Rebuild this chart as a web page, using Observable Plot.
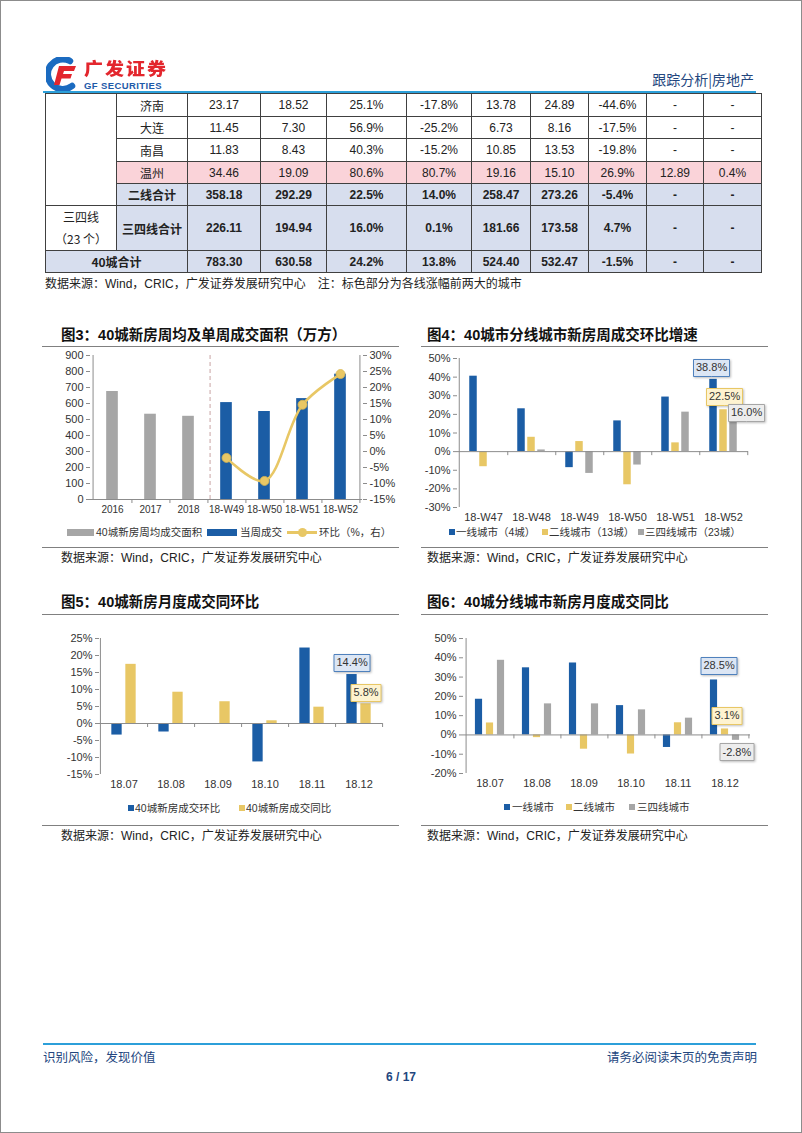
<!DOCTYPE html>
<html><head><meta charset="utf-8">
<script src="https://cdn.jsdelivr.net/npm/d3@7"></script>
<script src="https://cdn.jsdelivr.net/npm/@observablehq/plot@0.6"></script>
<style>
html,body{margin:0;padding:0;background:#fff;}
#page{position:relative;width:802px;height:1133px;overflow:hidden;font-family:"Liberation Sans",Arial,"Noto Sans CJK SC",sans-serif;color:#333;}
#frame{position:absolute;left:0;top:0;width:802px;height:1133px;box-sizing:border-box;border:1px solid #8c8c8c;pointer-events:none;}
.a{position:absolute;white-space:nowrap;}
.title{font-family:"Liberation Sans","Noto Sans CJK SC",sans-serif;font-weight:bold;font-size:14.5px;color:#111;line-height:18px;}
.rule{position:absolute;height:0;border-top:1.5px solid #808080;}
.src{font-size:12px;color:#222;line-height:14px;font-family:"Liberation Sans","Noto Sans CJK SC",sans-serif;}
.leg{font-size:10.5px;color:#333;line-height:12px;font-family:"Liberation Sans","Noto Sans CJK SC",sans-serif;}
table.t{position:absolute;left:45px;top:93px;border-collapse:collapse;table-layout:fixed;width:716px;font-size:12px;}
table.t td{border:1px solid #404040;text-align:center;padding:0;color:#222;}
table.t td.cn{font-family:"Noto Sans CJK SC",sans-serif;}
table.t tr.b td{font-weight:bold;}
</style></head><body><div id="page"></div><div id="frame"></div>
<script>
// ---------------- DATA ----------------
// table (continuation from previous page)
const tblCities = ["济南", "大连", "南昌", "温州"];
const rowJinan   = ["23.17", "18.52", "25.1%", "-17.8%", "13.78", "24.89", "-44.6%", "-", "-"];
const rowDalian  = ["11.45", "7.30", "56.9%", "-25.2%", "6.73", "8.16", "-17.5%", "-", "-"];
const rowNanchang= ["11.83", "8.43", "40.3%", "-15.2%", "10.85", "13.53", "-19.8%", "-", "-"];
const rowWenzhou = ["34.46", "19.09", "80.6%", "80.7%", "19.16", "15.10", "26.9%", "12.89", "0.4%"];
const rowTier2Total = ["358.18", "292.29", "22.5%", "14.0%", "258.47", "273.26", "-5.4%", "-", "-"];
const rowTier34Total = ["226.11", "194.94", "16.0%", "0.1%", "181.66", "173.58", "4.7%", "-", "-"];
const row40Total = ["783.30", "630.58", "24.2%", "13.8%", "524.40", "532.47", "-1.5%", "-", "-"];

// Fig 3
const c3YearCats = ["2016", "2017", "2018"];
const c3YearAvg = [675, 533, 520];
const c3WeekCats = ["18-W49", "18-W50", "18-W51", "18-W52"];
const c3WeekArea = [605.7, 550.0, 630.58, 783.30];
const c3WeekHb = [-2.0, -9.2, 14.6, 24.2];

// Fig 4
const c4Cats = ["18-W47", "18-W48", "18-W49", "18-W50", "18-W51", "18-W52"];
const c4Tier1 = [40.5, 23.0, -8.6, 16.5, 29.3, 38.8];
const c4Tier2 = [-8.1, 7.7, 5.4, -17.8, 4.7, 22.5];
const c4Tier34 = [0.0, 0.9, -11.7, -7.2, 21.2, 16.0];

// Fig 5
const c5Cats = ["18.07", "18.08", "18.09", "18.10", "18.11", "18.12"];
const c5Hb = [-3.4, -2.5, 0.0, -11.3, 22.2, 14.4];
const c5Tb = [17.4, 9.2, 6.4, 0.8, 4.8, 5.8];

// Fig 6
const c6Cats = ["18.07", "18.08", "18.09", "18.10", "18.11", "18.12"];
const c6Tier1 = [18.5, 34.8, 37.3, 15.2, -6.5, 28.5];
const c6Tier2 = [6.2, -1.4, -7.4, -9.9, 6.3, 3.1];
const c6Tier34 = [38.7, 16.1, 16.1, 13.0, 8.7, -2.8];

// ---------------- STYLE ----------------
const BLUE = "#1B5DA5", YEL = "#E8C765", GRAY = "#A6A6A6";
const AX = "#8c8c8c";
const NUMFONT = '"Liberation Sans", Arial, "Noto Sans CJK SC", sans-serif';

const page = document.getElementById("page");
function el(tag, cls, css, html) {
  const e = document.createElement(tag);
  if (cls) e.className = cls;
  Object.assign(e.style, css || {});
  if (html != null) e.innerHTML = html;
  page.appendChild(e);
  return e;
}
function place(node, left, top) {
  node.style.position = "absolute"; node.style.left = left + "px"; node.style.top = top + "px";
  page.appendChild(node);
}

// ---------------- HEADER ----------------
el("div", "a", {left: "46px", top: "57px", width: "36px", height: "34px"},
  `<svg width="36" height="34" viewBox="0 0 36 34">
    <path d="M24 4 A15 15 0 1 0 26 29" fill="none" stroke="#1B6BC0" stroke-width="6.5" stroke-linecap="round"/>
    <path d="M13 9 L30 9 L28 14 L18 14 L17 17 L26 17 L24.5 21.5 L15.5 21.5 L13.5 28 L8 28 Z" fill="#E3262D"/>
  </svg>`);
el("div", "a", {left: "84px", top: "57px", fontFamily: '"Noto Sans CJK SC",sans-serif', fontWeight: "900",
  fontSize: "19px", lineHeight: "22px", color: "#E3262D", letterSpacing: "2px", transform: "scaleY(0.92)"}, "广发证券");
el("div", "a", {left: "84px", top: "81px", fontFamily: '"Liberation Sans",Arial,sans-serif', fontWeight: "bold",
  fontSize: "9.5px", lineHeight: "10px", color: "#1E5AA8", letterSpacing: "0.4px"}, "GF SECURITIES");
el("div", "a", {right: "48px", top: "71px", fontFamily: '"Noto Sans CJK SC",sans-serif',
  fontSize: "14px", lineHeight: "17px", color: "#23467E"}, "跟踪分析|房地产");
el("div", "a", {left: "43px", top: "91px", width: "713px", height: "2px", background: "#2C9FD9"});

// ---------------- TABLE ----------------
(function buildTable() {
  const widths = [71, 71, 73, 66, 80, 65, 59, 58, 58, 57, 58];
  const heights = [23, 22, 23, 22, 22, 45, 22];
  const t = document.createElement("table");
  t.className = "t";
  const cg = document.createElement("colgroup");
  widths.forEach(w => { const c = document.createElement("col"); c.style.width = w + "px"; cg.appendChild(c); });
  t.appendChild(cg);
  const PINK = "#FAD3D9", LB = "#D7DEEE";
  const cityRows = [rowJinan, rowDalian, rowNanchang, rowWenzhou];
  function addRow(h, cls, cells) {
    const tr = document.createElement("tr");
    tr.style.height = h + "px";
    if (cls) tr.className = cls;
    cells.forEach(c => {
      const td = document.createElement("td");
      td.innerHTML = c.text;
      if (c.cn) td.className = "cn";
      if (c.bg) td.style.background = c.bg;
      if (c.rs) td.rowSpan = c.rs;
      if (c.cs) td.colSpan = c.cs;
      if (c.lh) td.style.lineHeight = c.lh;
      tr.appendChild(td);
    });
    t.appendChild(tr);
  }
  cityRows.forEach((vals, i) => {
    const bg = tblCities[i] === "温州" ? PINK : null;
    const cells = [];
    if (i === 0) cells.push({text: "", rs: 5});
    cells.push({text: tblCities[i], cn: true, bg});
    vals.forEach(v => cells.push({text: v, bg}));
    addRow(heights[i], "", cells);
  });
  addRow(heights[4], "b", [{text: "二线合计", cn: true, bg: LB}].concat(rowTier2Total.map(v => ({text: v, bg: LB}))));
  addRow(heights[5], "", [{text: "三四线<br>（23 个）", cn: true, lh: "22px"}, {text: "<b>三四线合计</b>", cn: true, bg: LB}]
    .concat(rowTier34Total.map(v => ({text: "<b>" + v + "</b>", bg: LB}))));
  addRow(heights[6], "b", [{text: "40城合计", cn: true, cs: 2, bg: LB}].concat(row40Total.map(v => ({text: v, bg: LB}))));
  page.appendChild(t);
})();
el("div", "a src", {left: "45px", top: "277px"}, "数据来源：Wind，CRIC，广发证券发展研究中心　注：标色部分为各线涨幅前两大的城市");

// ---------------- CHART FRAME TEXT ----------------
function frameText(x0, x1, titleX, titleY, ruleY1, ruleY2, srcY, title) {
  el("div", "a title", {left: titleX + "px", top: (titleY - 9) + "px"}, title);
  el("div", "rule", {left: x0 + "px", top: ruleY1 + "px", width: (x1 - x0) + "px"});
  el("div", "rule", {left: x0 + "px", top: ruleY2 + "px", width: (x1 - x0) + "px"});
  el("div", "a src", {left: titleX + "px", top: (srcY - 7) + "px"}, "数据来源：Wind，CRIC，广发证券发展研究中心");
}
frameText(42, 399, 61, 335, 346, 547, 558, "图3：40城新房周均及单周成交面积（万方）");
frameText(421, 768, 427, 335, 346, 547, 558, "图4：40城市分线城市新房周成交环比增速");
frameText(42, 399, 61, 602, 614, 825, 836, "图5：40城新房月度成交同环比");
frameText(421, 768, 427, 602, 614, 825, 836, "图6：40城分线城市新房月度成交同比");

// ---------------- LEGENDS ----------------
function legend(y, items) {
  items.forEach(it => {
    if (it.kind === "sq") el("div", "a", {left: it.x + "px", top: (y - 3) + "px", width: "6px", height: "6px", background: it.color});
    else if (it.kind === "bar") el("div", "a", {left: it.x + "px", top: (y - 3) + "px", width: it.w + "px", height: "7px", background: it.color});
    else if (it.kind === "line") {
      el("div", "a", {left: it.x + "px", top: (y - 1.5) + "px", width: it.w + "px", height: "3px", background: it.color});
      el("div", "a", {left: (it.x + it.w / 2 - 4.5) + "px", top: (y - 4.5) + "px", width: "9px", height: "9px", borderRadius: "50%", background: it.color});
    } else el("div", "a leg", {left: it.x + "px", top: (y - 6) + "px"}, it.text);
  });
}
legend(532, [
  {kind: "bar", x: 67, w: 27, color: GRAY}, {x: 96, text: "40城新房周均成交面积"},
  {kind: "bar", x: 207, w: 30, color: BLUE}, {x: 240, text: "当周成交"},
  {kind: "line", x: 287, w: 30, color: YEL}, {x: 319, text: "环比（%，右）"}
]);
legend(532, [
  {kind: "sq", x: 449, color: BLUE}, {x: 456, text: "一线城市（4城）"},
  {kind: "sq", x: 542, color: YEL}, {x: 549, text: "二线城市（13城）"},
  {kind: "sq", x: 638, color: GRAY}, {x: 645, text: "三四线城市（23城）"}
]);
legend(808, [
  {kind: "sq", x: 128, color: BLUE}, {x: 135, text: "40城新房成交环比"},
  {kind: "sq", x: 239, color: YEL}, {x: 246, text: "40城新房成交同比"}
]);
legend(807, [
  {kind: "sq", x: 504, color: BLUE}, {x: 512, text: "一线城市"},
  {kind: "sq", x: 566, color: YEL}, {x: 573, text: "二线城市"},
  {kind: "sq", x: 629, color: GRAY}, {x: 637, text: "三四线城市"}
]);

// ---------------- CHARTS ----------------
const plotStyle = {fontFamily: NUMFONT, fontSize: "11px", color: "#333", background: "transparent", overflow: "visible"};

function boxLabel(cat, val, offset, fill, stroke, anchor, extraDx, extraDy) {
  return Plot.tip([{c: cat, v: val}], {
    x: "c", y: "v", title: d => d.v.toFixed(1) + "%",
    anchor, pointerSize: 0, pathFilter: "drop-shadow(1px 1px 1px rgba(0,0,0,0.25))",
    fill, stroke, strokeWidth: 1, fontSize: 11, textPadding: 2.5,
    dx: offset + (extraDx || 0), dy: extraDy || 0
  });
}

function grouped(cfg) {
  const {cats, series, domain, step, W, H, mL, mR, mT, mB, barW, labels} = cfg;
  const bw = (W - mL - mR) / cats.length;
  const perPx = (domain[1] - domain[0]) / (H - mT - mB);
  const marks = [
    Plot.ruleX([cats[0]], {y1: domain[0], y2: domain[1], dx: -bw / 2, stroke: AX}),
    Plot.ruleX(cats, {y1: 0, y2: -4 * perPx, dx: bw / 2, stroke: AX}),
    Plot.axisY({ticks: d3.range(domain[0], domain[1] + 0.001, step), tickFormat: d => d + "%", tickSize: 4, tickPadding: 3, stroke: AX, fill: "#333", fontSize: 11, label: null}),
    Plot.axisX({tickSize: 0, tickPadding: 6, fill: "#333", fontSize: 11, label: null})
  ];
  series.forEach(s => {
    marks.push(Plot.barY(cats.map((c, i) => ({c, v: s.values[i]})), {
      x: "c", y: "v", fill: s.color,
      insetLeft: (bw - barW) / 2, insetRight: (bw - barW) / 2, dx: s.dx
    }));
  });
  marks.push(Plot.ruleY([0], {stroke: AX}));
  (labels || []).forEach(l => marks.push(l));
  return Plot.plot({
    width: W, height: H, marginLeft: mL, marginRight: mR, marginTop: mT, marginBottom: mB,
    x: {type: "band", domain: cats, padding: 0, label: null},
    y: {domain, label: null},
    style: plotStyle,
    marks
  });
}

// Fig 3: dual axis
(function () {
  const W = 360, H = 180, mL = 50, mR = 38, mT = 10, mB = 26;
  const cats = c3YearCats.concat(c3WeekCats);
  const bw = (W - mL - mR) / cats.length;
  const barW = 12.5;
  const yR = v => (v + 15) * 20; // right axis (-15%..30%) onto left (0..900)
  const years = c3YearCats.map((c, i) => ({c, v: c3YearAvg[i]}));
  const weeks = c3WeekCats.map((c, i) => ({c, v: c3WeekArea[i], hb: c3WeekHb[i]}));
  const perPx = 900 / (H - mT - mB);
  const chart = Plot.plot({
    width: W, height: H, marginLeft: mL, marginRight: mR, marginTop: mT, marginBottom: mB,
    x: {type: "band", domain: cats, padding: 0, label: null},
    y: {domain: [0, 900], label: null},
    style: plotStyle,
    marks: [
      Plot.ruleX([cats[0]], {y1: 0, y2: 900, dx: -bw / 2, stroke: AX}),
      Plot.ruleX([cats[cats.length - 1]], {y1: 0, y2: 900, dx: bw / 2, stroke: AX}),
      Plot.ruleX(cats, {y1: 0, y2: -4 * perPx, dx: bw / 2, stroke: AX}),
      Plot.ruleX(["18-W49"], {y1: 0, y2: 900, dx: -bw / 2 + 3, stroke: "#C8A4A4", strokeDasharray: "4,3"}),
      Plot.axisY({ticks: d3.range(0, 901, 100), tickSize: 4, tickPadding: 3, stroke: AX, fill: "#333", fontSize: 11, label: null}),
      Plot.axisY({anchor: "right", ticks: d3.range(-15, 31, 5).map(yR), tickFormat: d => Math.round(d / 20 - 15) + "%", tickSize: 4, tickPadding: 3, stroke: AX, fill: "#333", fontSize: 11, label: null}),
      Plot.axisX({tickSize: 0, tickPadding: 6, fill: "#333", fontSize: 10, label: null}),
      Plot.barY(years, {x: "c", y: "v", fill: GRAY, insetLeft: (bw - barW) / 2, insetRight: (bw - barW) / 2}),
      Plot.barY(weeks, {x: "c", y: "v", fill: BLUE, insetLeft: (bw - barW) / 2, insetRight: (bw - barW) / 2}),
      Plot.ruleY([0], {stroke: AX}),
      Plot.line(weeks, {x: "c", y: d => yR(d.hb), curve: "catmull-rom", stroke: YEL, strokeWidth: 2.6}),
      Plot.dot(weeks, {x: "c", y: d => yR(d.hb), r: 4.5, fill: YEL, stroke: "#D9B64F", strokeWidth: 0.8})
    ]
  });
  place(chart, 40, 345);
})();

// Fig 4
place(grouped({
  cats: c4Cats, domain: [-30, 50], step: 10, W: 360, H: 175, mL: 47, mR: 22, mT: 8, mB: 18, barW: 8,
  series: [
    {values: c4Tier1, color: BLUE, dx: -10},
    {values: c4Tier2, color: YEL, dx: 0},
    {values: c4Tier34, color: GRAY, dx: 10}
  ],
  labels: [
    boxLabel("18-W52", c4Tier1[5], -10, "#DCE6F4", "#4F81BD", "bottom", -2, -3),
    boxLabel("18-W52", c4Tier2[5], 0, "#FEF3D0", "#E8C765", "bottom", 1, -4),
    boxLabel("18-W52", c4Tier34[5], 10, "#EDEDED", "#A6A6A6", "bottom", 13, 0)
  ]
}), 410, 350);

// Fig 5
place(grouped({
  cats: c5Cats, domain: [-15, 25], step: 5, W: 360, H: 175, mL: 59, mR: 18, mT: 13, mB: 26, barW: 10.5,
  series: [
    {values: c5Hb, color: BLUE, dx: -7},
    {values: c5Tb, color: YEL, dx: 7}
  ],
  labels: [
    boxLabel("18.12", c5Hb[5], -7, "#DCE6F4", "#4F81BD", "bottom", 0, -3),
    boxLabel("18.12", c5Tb[5], 7, "#FEF3D0", "#E8C765", "bottom", 0, -2)
  ]
}), 40, 625);

// Fig 6
place(grouped({
  cats: c6Cats, domain: [-20, 50], step: 10, W: 360, H: 175, mL: 53, mR: 20, mT: 13, mB: 27, barW: 8,
  series: [
    {values: c6Tier1, color: BLUE, dx: -11},
    {values: c6Tier2, color: YEL, dx: 0},
    {values: c6Tier34, color: GRAY, dx: 11}
  ],
  labels: [
    boxLabel("18.12", c6Tier1[5], -11, "#DCE6F4", "#4F81BD", "bottom", 5, -5),
    boxLabel("18.12", c6Tier2[5], 0, "#FEF3D0", "#E8C765", "bottom", 2, -4),
    boxLabel("18.12", c6Tier34[5], 11, "#EDEDED", "#A6A6A6", "top", 1, 3)
  ]
}), 410, 625);

// ---------------- FOOTER ----------------
el("div", "a", {left: "43px", top: "1043px", width: "713px", height: "2px", background: "#2C9FD9"});
el("div", "a", {left: "43px", top: "1049px", fontFamily: '"Noto Sans CJK SC",sans-serif', fontSize: "12.5px", lineHeight: "16px", color: "#23467E"}, "识别风险，发现价值");
el("div", "a", {right: "45px", top: "1049px", fontFamily: '"Noto Sans CJK SC",sans-serif', fontSize: "12.5px", lineHeight: "16px", color: "#23467E"}, "请务必阅读末页的免责声明");
el("div", "a", {left: "0", width: "802px", textAlign: "center", top: "1070px", fontFamily: '"Liberation Sans",Arial,sans-serif', fontWeight: "bold", fontSize: "12px", lineHeight: "14px", color: "#23467E"}, "6 / 17");
</script></body></html>
